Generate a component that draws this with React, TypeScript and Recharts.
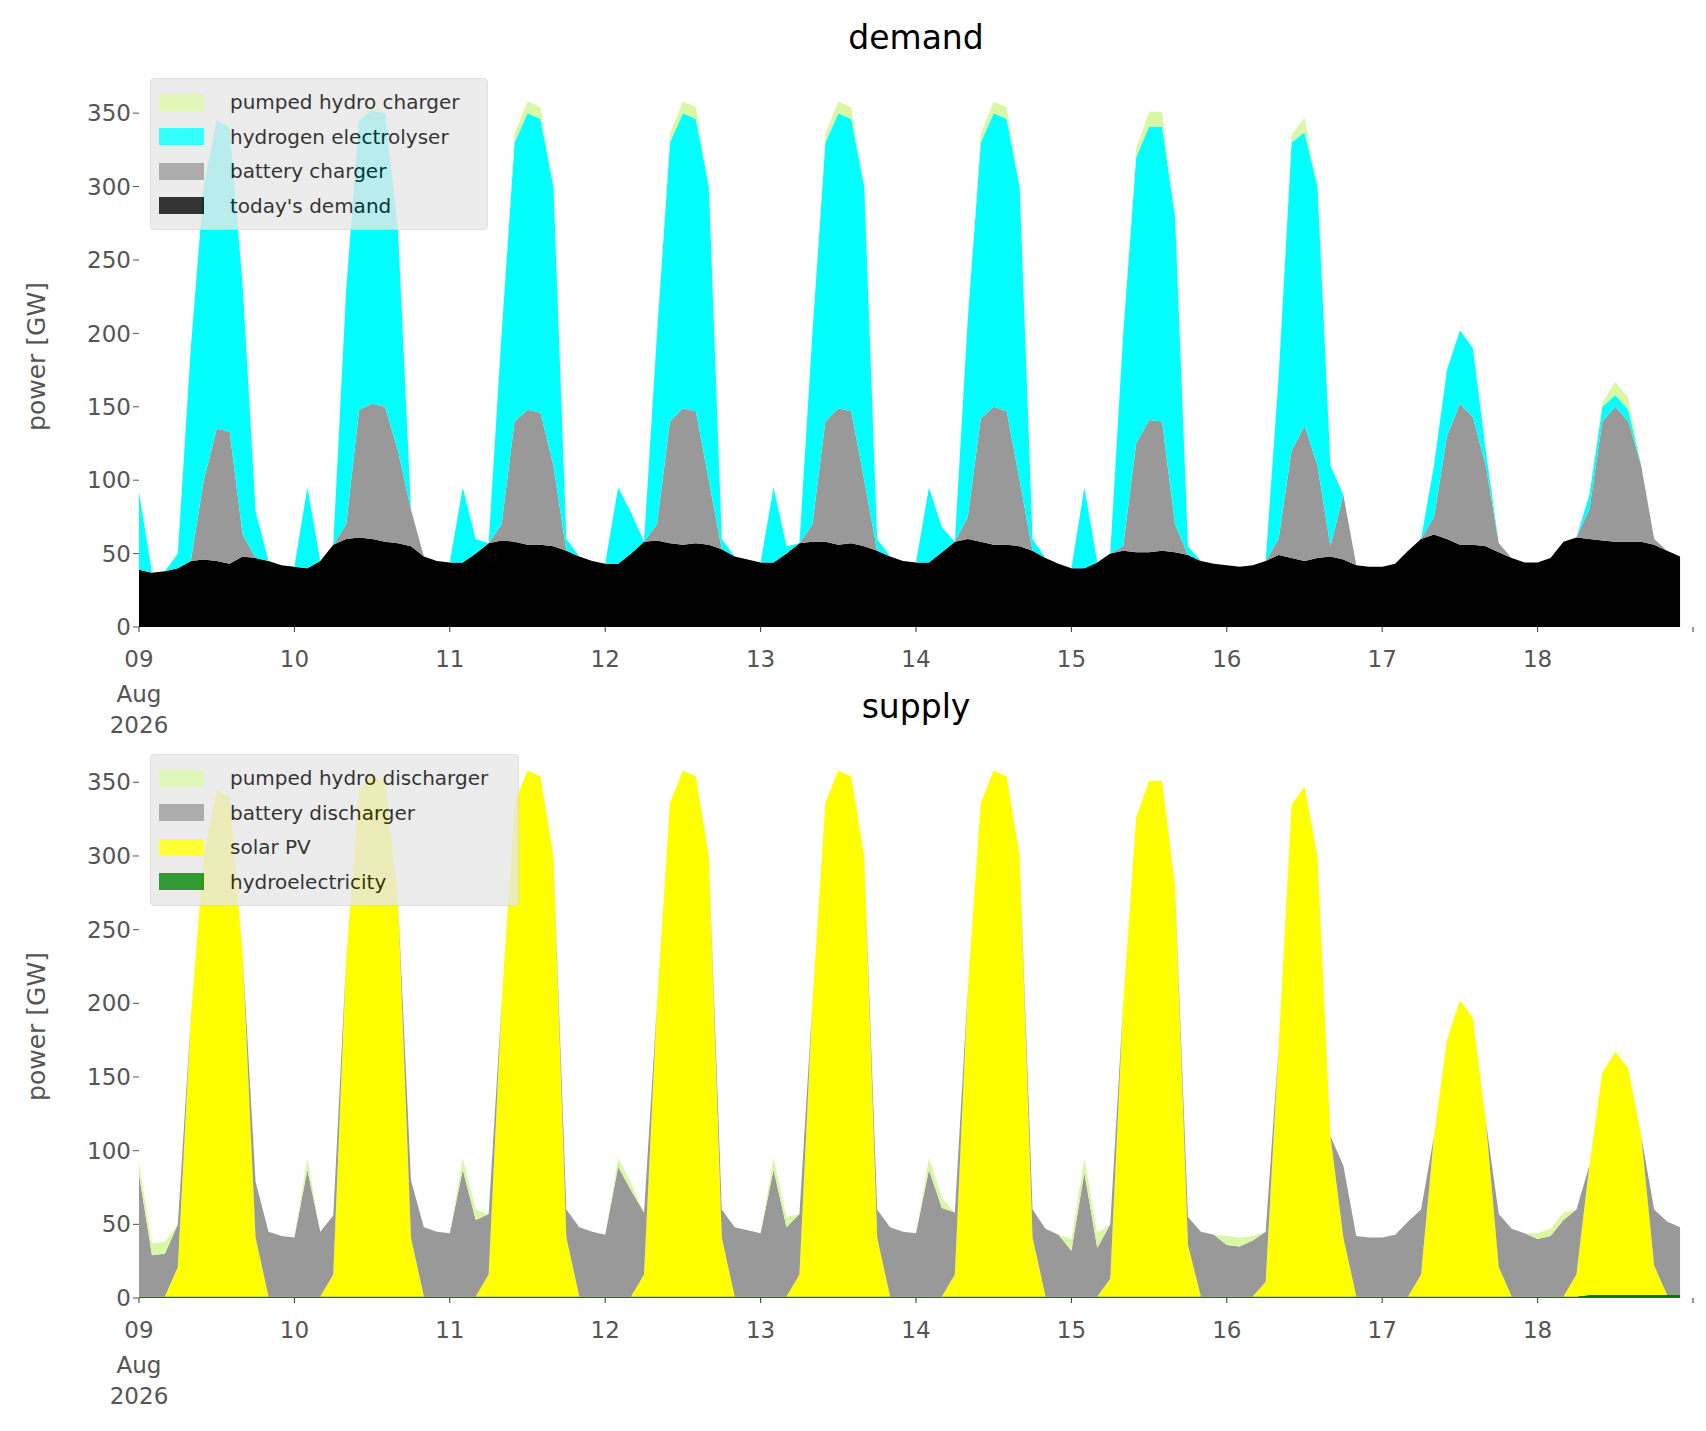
import React from "react";
import { AreaChart, Area, XAxis, YAxis } from "recharts";

// 2-hourly values, one row per day (09..18 Aug 2026), hours 0,2,...,22
const todaysDemand = [
  [39,37,38,40,45,46,45,43,48,47,45,42],
  [41,40,45,56,60,61,60,58,57,55,48,45],
  [44,44,50,57,59,58,56,56,55,52,48,45],
  [43,43,50,58,59,57,56,57,56,53,48,46],
  [44,44,50,57,58,58,56,57,55,52,48,45],
  [44,44,51,58,60,58,56,56,55,52,47,43],
  [40,40,44,50,52,51,51,52,51,49,45,43],
  [42,41,42,45,49,47,45,47,48,46,42,41],
  [41,43,52,60,63,60,56,56,55,51,47,44],
  [44,47,58,61,60,59,58,58,58,56,52,48],
];
const batteryCharger = [
  [0,0,0,0,0,54,90,90,15,0,0,0],
  [0,0,0,0,10,87,92,92,63,25,0,0],
  [0,0,0,0,11,82,92,90,55,0,0,0],
  [0,0,0,0,11,83,93,90,44,0,0,0],
  [0,0,0,0,12,82,93,90,45,0,0,0],
  [0,0,0,0,15,84,94,91,45,0,0,0],
  [0,0,0,0,3,74,90,88,19,0,0,0],
  [0,0,0,0,11,73,92,63,7,44,0,0],
  [0,0,0,0,12,70,96,87,55,6,0,0],
  [0,0,0,0,20,81,92,82,52,4,0,0],
];
const hydrogenElectrolyser = [
  [53,0,0,10,145,200,210,207,170,32,0,0],
  [0,55,0,0,160,197,200,200,150,0,0,0],
  [0,51,10,0,130,190,202,200,190,8,0,0],
  [0,52,28,0,130,190,201,199,200,7,0,0],
  [0,51,5,0,130,190,201,199,200,8,0,0],
  [0,51,17,0,135,188,200,199,200,8,0,0],
  [0,55,0,0,145,195,200,201,210,6,0,0],
  [0,0,0,0,110,210,200,190,55,0,0,0],
  [0,0,0,0,35,45,50,47,10,0,0,0],
  [0,0,0,0,10,10,8,8,0,0,0,0],
];
const pumpedHydroCharger = [
  [0,0,0,0,0,0,0,0,0,0,0,0],
  [0,0,0,0,0,0,3,0,0,0,0,0],
  [0,0,0,0,0,6,8,8,0,0,0,0],
  [0,0,0,0,0,6,8,8,0,0,0,0],
  [0,0,0,0,0,6,8,8,0,0,0,0],
  [0,0,0,0,0,6,8,8,0,0,0,0],
  [0,0,0,0,0,6,10,10,0,0,0,0],
  [0,0,0,0,0,5,10,0,0,0,0,0],
  [0,0,0,0,0,0,0,0,0,0,0,0],
  [0,0,0,0,0,3,9,8,0,0,0,0],
];
const hydroelectricity = [
  [1,1,1,1,1,1,1,1,1,1,1,1],
  [1,1,1,1,1,1,1,1,1,1,1,1],
  [1,1,1,1,1,1,1,1,1,1,1,1],
  [1,1,1,1,1,1,1,1,1,1,1,1],
  [1,1,1,1,1,1,1,1,1,1,1,1],
  [1,1,1,1,1,1,1,1,1,1,1,1],
  [1,1,1,1,1,1,1,1,1,1,1,1],
  [1,1,1,1,1,1,1,1,1,1,1,1],
  [1,1,1,1,1,1,1,1,1,1,1,1],
  [1,1,1,1,2,2,2,2,2,2,2,2],
];
const solarPV = [
  [0,0,0,20,189,299,344,339,232,40,0,0],
  [0,0,0,15,229,344,354,349,269,40,0,0],
  [0,0,0,15,199,335,357,353,299,40,0,0],
  [0,0,0,15,199,335,357,353,299,40,0,0],
  [0,0,0,15,199,335,357,353,299,40,0,0],
  [0,0,0,15,209,335,357,353,299,40,0,0],
  [0,0,0,12,199,325,350,350,279,35,0,0],
  [0,0,0,10,169,334,346,299,109,40,0,0],
  [0,0,0,15,109,174,201,189,119,20,0,0],
  [0,0,0,15,88,151,165,154,108,20,0,0],
];
const batteryDischarger = [
  [83,28,29,29,0,0,0,0,0,38,44,41],
  [40,86,44,40,0,0,0,0,0,39,47,44],
  [43,86,52,41,0,0,0,0,0,19,47,44],
  [42,88,72,42,0,0,0,0,0,19,47,45],
  [43,86,47,41,0,0,0,0,0,19,47,44],
  [43,86,60,42,0,0,0,0,0,19,46,42],
  [31,84,33,37,0,0,0,0,0,19,44,42],
  [35,34,38,34,0,0,0,0,0,49,41,40],
  [40,42,51,44,0,0,0,0,0,36,46,43],
  [39,41,52,44,0,0,0,0,0,38,50,46],
];
const pumpedHydroDischarger = [
  [8,8,8,0,0,0,0,0,0,0,0,0],
  [0,8,0,0,0,0,0,0,0,0,0,0],
  [0,8,7,0,0,0,0,0,0,0,0,0],
  [0,6,5,0,0,0,0,0,0,0,0,0],
  [0,8,7,0,0,0,0,0,0,0,0,0],
  [0,8,7,0,0,0,0,0,0,0,0,0],
  [8,10,10,0,0,0,0,0,0,0,0,0],
  [6,6,3,0,0,0,0,0,0,0,0,0],
  [0,0,0,0,0,0,0,0,0,0,0,0],
  [4,5,5,0,0,0,0,0,0,0,0,0],
];
const dayLabels = ["09","10","11","12","13","14","15","16","17","18",""];
const xTicks = [0,24,48,72,96,120,144,168,192,216,240];
const yTicks = [0,50,100,150,200,250,300,350];

const flat = (a: number[][]) => a.flat();
const d1 = flat(todaysDemand), d2 = flat(batteryCharger), d3 = flat(hydrogenElectrolyser), d4 = flat(pumpedHydroCharger);
const s1 = flat(hydroelectricity), s2 = flat(solarPV), s3 = flat(batteryDischarger), s4 = flat(pumpedHydroDischarger);
const data = d1.map((_, i) => ({
  hour: i * 2,
  demand: d1[i], batt: d2[i], h2: d3[i], ph: d4[i],
  hydro: s1[i], solar: s2[i], battD: s3[i], phD: s4[i],
}));

const FONT = "DejaVu Sans, sans-serif";
const GRAY = "#555555";
const PUMP = "#d9f7a5";

const XTick = (props: any) => {
  const { x, y, payload } = props;
  const idx = xTicks.indexOf(payload.value);
  const lbl = dayLabels[idx] ?? "";
  return (
    <g transform={`translate(${x},${y})`}>
      <text x={0} y={0} dy={33} textAnchor="middle" fill={GRAY} fontSize={23} fontFamily={FONT}>{lbl}</text>
      {idx === 0 && (
        <>
          <text x={0} y={0} dy={68} textAnchor="middle" fill={GRAY} fontSize={23} fontFamily={FONT}>Aug</text>
          <text x={0} y={0} dy={99} textAnchor="middle" fill={GRAY} fontSize={23} fontFamily={FONT}>2026</text>
        </>
      )}
    </g>
  );
};

const Legend = ({ items, top, width }: { items: [string, string][]; top: number; width: number }) => (
  <div style={{ position: "absolute", left: 150, top, width, background: "#e8e8e8", border: "1px solid #d8d8d8", borderRadius: 4, padding: "6px 0", fontFamily: FONT, fontSize: 20, zIndex: 5 }}>
    {items.map(([c, l]) => (
      <div key={l} style={{ display: "flex", alignItems: "center", height: 34.5 }}>
        <div style={{ width: 45, height: 17, background: c, marginLeft: 8, marginRight: 26 }} />
        <span style={{ color: "#000" }}>{l}</span>
      </div>
    ))}
  </div>
);

const Panel = ({ top, height, mTop, mBottom, title, children }: any) => (
  <div style={{ position: "absolute", left: 0, top, width: 1706, height }}>
    <div style={{ position: "absolute", left: 139, width: 1554, top: mTop - 57, textAlign: "center", fontFamily: FONT, fontSize: 33, color: "#000" }}>{title}</div>
    <div style={{ position: "absolute", left: 21, top: mTop, height: height - mTop - mBottom, width: 30, display: "flex", alignItems: "center", justifyContent: "center" }}>
      <div style={{ transform: "rotate(-90deg)", whiteSpace: "nowrap", fontFamily: FONT, fontSize: 25, color: GRAY }}>power [GW]</div>
    </div>
    <AreaChart width={1706} height={height} data={data} margin={{ top: mTop, bottom: mBottom, left: 50, right: 13 }}>
      <XAxis dataKey="hour" type="number" domain={[0, 240]} ticks={xTicks} interval={0} tick={<XTick />} axisLine={false} tickLine={{ stroke: "#333" }} tickSize={5} height={10} />
      <YAxis domain={[0, 376]} ticks={yTicks} width={89} axisLine={false} tickLine={{ stroke: GRAY }} tickSize={6} tick={{ fill: GRAY, fontSize: 23, fontFamily: FONT }} allowDataOverflow />
      {children}
    </AreaChart>
  </div>
);

export default function App() {
  return (
    <div style={{ position: "absolute", left: 0, top: 0, width: 1706, height: 1431, background: "#fff" }}>
      <Panel top={0} height={770} mTop={75} mBottom={133} title="demand">
        <Area type="linear" dataKey="demand" stackId="a" fill="#000" stroke="none" fillOpacity={1} isAnimationActive={false} />
        <Area type="linear" dataKey="batt" stackId="a" fill="#999999" stroke="none" fillOpacity={1} isAnimationActive={false} />
        <Area type="linear" dataKey="h2" stackId="a" fill="#00ffff" stroke="none" fillOpacity={1} isAnimationActive={false} />
        <Area type="linear" dataKey="ph" stackId="a" fill={PUMP} stroke="none" fillOpacity={1} isAnimationActive={false} />
      </Panel>
      <Panel top={672} height={759} mTop={72} mBottom={123} title="supply">
        <Area type="linear" dataKey="hydro" stackId="b" fill="#008000" stroke="none" fillOpacity={1} isAnimationActive={false} />
        <Area type="linear" dataKey="solar" stackId="b" fill="#ffff00" stroke="none" fillOpacity={1} isAnimationActive={false} />
        <Area type="linear" dataKey="battD" stackId="b" fill="#999999" stroke="none" fillOpacity={1} isAnimationActive={false} />
        <Area type="linear" dataKey="phD" stackId="b" fill={PUMP} stroke="none" fillOpacity={1} isAnimationActive={false} />
      </Panel>
      <div style={{ position: "absolute", left: 0, top: 0, opacity: 0.8 }}>
        <Legend top={78} width={336} items={[[PUMP, "pumped hydro charger"], ["#00ffff", "hydrogen electrolyser"], ["#999999", "battery charger"], ["#000", "today's demand"]]} />
        <Legend top={754} width={367} items={[[PUMP, "pumped hydro discharger"], ["#999999", "battery discharger"], ["#ffff00", "solar PV"], ["#008000", "hydroelectricity"]]} />
      </div>
    </div>
  );
}
